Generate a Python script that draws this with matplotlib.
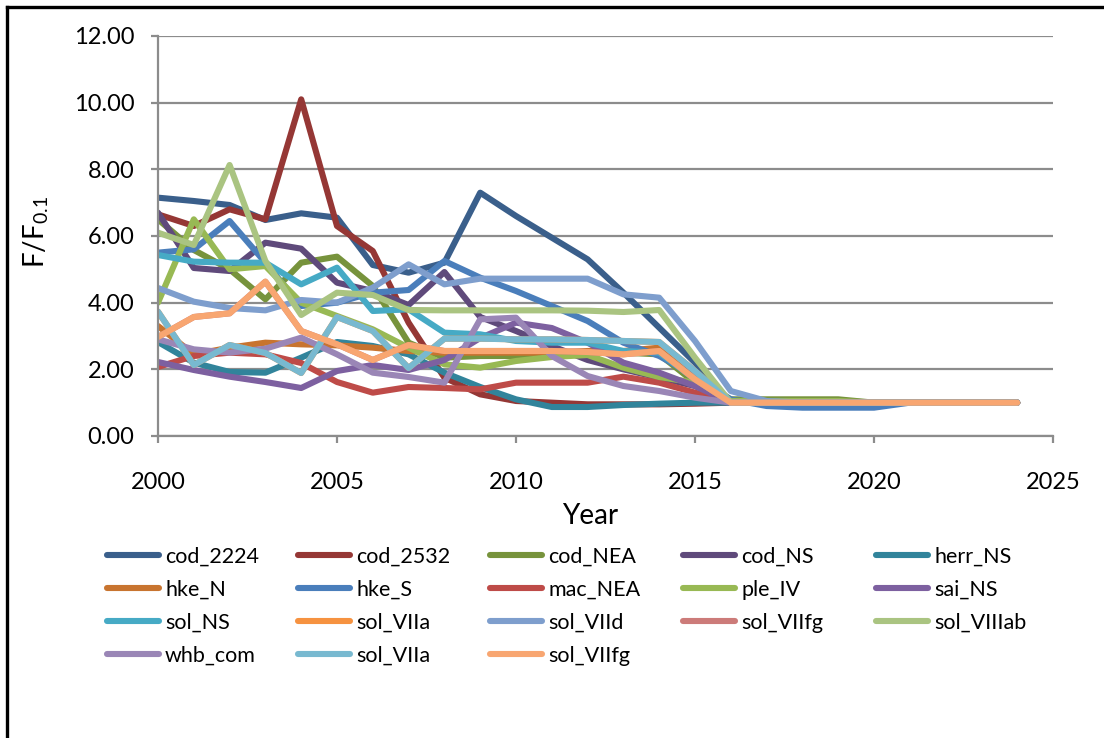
import matplotlib
matplotlib.use('Agg')
import matplotlib.pyplot as plt
from matplotlib.lines import Line2D
from matplotlib.ticker import FormatStrFormatter
import numpy as np

plt.rcParams['font.family'] = ['Lato', 'DejaVu Sans']

years = list(range(2000, 2025))

# F/F0.1 per stock (2000..2024)
cod_2224 = [7.15, 7.05, 6.93, 6.48, 6.68, 6.55, 5.13, 4.90, 5.20, 7.30, 6.60, 5.95, 5.30,
            4.30, 3.25, 2.20, 1.00, 1.00, 1.00, 1.00, 1.00, 1.00, 1.00, 1.00, 1.00]
cod_2532 = [6.65, 6.30, 6.80, 6.50, 10.10, 6.30, 5.55, 3.40, 1.75, 1.25, 1.05, 1.00, 0.95,
            0.95, 0.95, 0.97, 1.00, 1.00, 1.00, 1.00, 1.00, 1.00, 1.00, 1.00, 1.00]
cod_NEA = [6.50, 5.58, 5.00, 4.10, 5.20, 5.38, 4.50, 2.80, 2.35, 2.40, 2.40, 2.45, 2.50,
           2.50, 2.45, 1.60, 1.10, 1.10, 1.10, 1.10, 1.00, 1.00, 1.00, 1.00, 1.00]
cod_NS = [6.70, 5.04, 4.95, 5.80, 5.62, 4.60, 4.35, 3.93, 4.92, 3.57, 3.15, 2.70, 2.28,
          2.00, 1.75, 1.50, 1.00, 1.00, 1.00, 1.00, 1.00, 1.00, 1.00, 1.00, 1.00]
herr_NS = [2.82, 2.20, 1.92, 1.90, 2.35, 2.82, 2.70, 2.45, 1.90, 1.47, 1.10, 0.87, 0.87,
           0.93, 0.97, 1.00, 1.00, 1.00, 1.00, 1.00, 1.00, 1.00, 1.00, 1.00, 1.00]
hke_N = [3.30, 2.45, 2.65, 2.80, 2.75, 2.72, 2.65, 2.55, 2.50, 2.50, 2.50, 2.50, 2.55,
         2.55, 2.65, 1.80, 1.00, 1.00, 1.00, 1.00, 1.00, 1.00, 1.00, 1.00, 1.00]
hke_S = [5.50, 5.60, 6.45, 5.20, 3.90, 4.00, 4.30, 4.38, 5.25, 4.75, 4.35, 3.90, 3.45,
         2.80, 2.40, 1.80, 1.10, 0.90, 0.85, 0.85, 0.85, 1.00, 1.00, 1.00, 1.00]
mac_NEA = [2.07, 2.40, 2.50, 2.45, 2.19, 1.62, 1.30, 1.47, 1.44, 1.40, 1.60, 1.60, 1.60,
           1.78, 1.60, 1.30, 1.00, 1.00, 1.00, 1.00, 1.00, 1.00, 1.00, 1.00, 1.00]
ple_IV = [4.00, 6.50, 5.00, 5.10, 4.00, 3.60, 3.20, 2.65, 2.15, 2.05, 2.25, 2.37, 2.43,
          2.05, 1.77, 1.60, 1.05, 1.05, 1.05, 1.05, 1.00, 1.00, 1.00, 1.00, 1.00]
sai_NS = [2.22, 1.98, 1.78, 1.62, 1.44, 1.95, 2.13, 1.98, 2.28, 2.94, 3.40, 3.24, 2.80,
          2.20, 1.90, 1.50, 1.00, 1.00, 1.00, 1.00, 1.00, 1.00, 1.00, 1.00, 1.00]
sol_NS = [5.43, 5.23, 5.20, 5.20, 4.55, 5.05, 3.75, 3.80, 3.10, 3.05, 2.85, 2.80, 2.80,
          2.55, 2.50, 1.70, 1.00, 1.00, 1.00, 1.00, 1.00, 1.00, 1.00, 1.00, 1.00]
sol_VIIa = [3.73, 2.13, 2.73, 2.49, 1.89, 3.57, 3.15, 2.04, 2.92, 2.92, 2.90, 2.90, 2.88,
            2.85, 2.82, 1.95, 1.00, 1.00, 1.00, 1.00, 1.00, 1.00, 1.00, 1.00, 1.00]
sol_VIId = [4.44, 4.03, 3.84, 3.77, 4.08, 4.00, 4.45, 5.15, 4.55, 4.72, 4.72, 4.72, 4.72,
            4.25, 4.15, 2.85, 1.35, 1.05, 1.00, 1.00, 1.00, 1.00, 1.00, 1.00, 1.00]
sol_VIIfg = [2.97, 3.57, 3.68, 4.63, 3.15, 2.75, 2.28, 2.73, 2.55, 2.55, 2.55, 2.55, 2.52,
             2.45, 2.55, 1.70, 1.00, 1.00, 1.00, 1.00, 1.00, 1.00, 1.00, 1.00, 1.00]
sol_VIIIab = [6.10, 5.73, 8.13, 5.25, 3.63, 4.30, 4.23, 3.78, 3.77, 3.77, 3.77, 3.77, 3.76,
              3.72, 3.78, 2.35, 1.00, 1.00, 1.00, 1.00, 1.00, 1.00, 1.00, 1.00, 1.00]
whb_com = [2.90, 2.60, 2.50, 2.62, 2.95, 2.45, 1.90, 1.77, 1.60, 3.50, 3.55, 2.40, 1.80,
           1.50, 1.35, 1.15, 1.00, 1.00, 1.00, 1.00, 1.00, 1.00, 1.00, 1.00, 1.00]

labels = ['cod_2224', 'cod_2532', 'cod_NEA', 'cod_NS', 'herr_NS',
          'hke_N', 'hke_S', 'mac_NEA', 'ple_IV', 'sai_NS',
          'sol_NS', 'sol_VIIa', 'sol_VIId', 'sol_VIIfg', 'sol_VIIIab',
          'whb_com', 'sol_VIIa', 'sol_VIIfg']
values = [cod_2224, cod_2532, cod_NEA, cod_NS, herr_NS,
          hke_N, hke_S, mac_NEA, ple_IV, sai_NS,
          sol_NS, sol_VIIa, sol_VIId, sol_VIIfg, sol_VIIIab,
          whb_com, sol_VIIa, sol_VIIfg]
colors = ['#3A5F8B', '#953735', '#77933C', '#5F4A7B', '#31849B',
          '#C8742F', '#4A7EBB', '#BE4B48', '#98B954', '#7D60A0',
          '#46AAC5', '#F69240', '#7E9ECD', '#CC7B79', '#AAC481',
          '#9A86B6', '#78B9D0', '#F8A671']

W, H = 1104, 738
fig = plt.figure(figsize=(W / 100, H / 100), dpi=100)
ax = fig.add_axes([158 / W, 1 - 436 / H, (1053 - 158) / W, 400 / H])

handles = []
for lab, vals, col in zip(labels, values, colors):
    ln, = ax.plot(years, vals, color=col, lw=4.4, label=lab,
                  solid_capstyle='round', solid_joinstyle='round')
    handles.append(ln)

grey = '#8C8C8C'
ax.set_xlim(2000, 2025)
ax.set_ylim(0, 12)
ax.set_xticks(range(2000, 2026, 5))
ax.set_yticks(np.arange(0, 12.1, 2))
ax.yaxis.set_major_formatter(FormatStrFormatter('%.2f'))
ax.grid(axis='y', color=grey, lw=1.6)
ax.set_axisbelow(True)
for s in ['top', 'right']:
    ax.spines[s].set_visible(False)
for s in ['left', 'bottom']:
    ax.spines[s].set_color(grey)
    ax.spines[s].set_linewidth(1.6)
ax.tick_params(axis='x', direction='out', length=5, width=1.6, color=grey,
               pad=21, labelsize=17)
ax.tick_params(axis='y', direction='out', length=5, width=1.6, color=grey,
               pad=12, labelsize=17)

ax.set_xlabel('Year', fontsize=20)
ax.xaxis.set_label_coords(0.483, -0.168)
ax.set_ylabel('F/F$_{\\mathregular{0.1}}$', fontsize=20)
ax.yaxis.set_label_coords(-0.12, 0.51)

# legend: 5 columns of equal width, rows filled left to right
col_x = [107, 298, 490, 683, 876]
for c, x in enumerate(col_x):
    idx = [r * 5 + c for r in range(4) if r * 5 + c < len(labels)]
    fig.legend([handles[i] for i in idx], [labels[i] for i in idx],
               loc='upper left', bbox_to_anchor=(x / W, 1 - 547 / H),
               frameon=False, fontsize=15.5, handlelength=2.4,
               handletextpad=0.3, labelspacing=0.6, borderpad=0,
               borderaxespad=0)

# outer chart border (left and top visible)
fig.add_artist(Line2D([7 / W, 1], [1 - 7 / H, 1 - 7 / H], transform=fig.transFigure,
                      color='black', lw=2.4))
fig.add_artist(Line2D([7 / W, 7 / W], [0, 1 - 7 / H], transform=fig.transFigure,
                      color='black', lw=2.4))

fig.savefig('out.png', dpi=100, facecolor='white')
